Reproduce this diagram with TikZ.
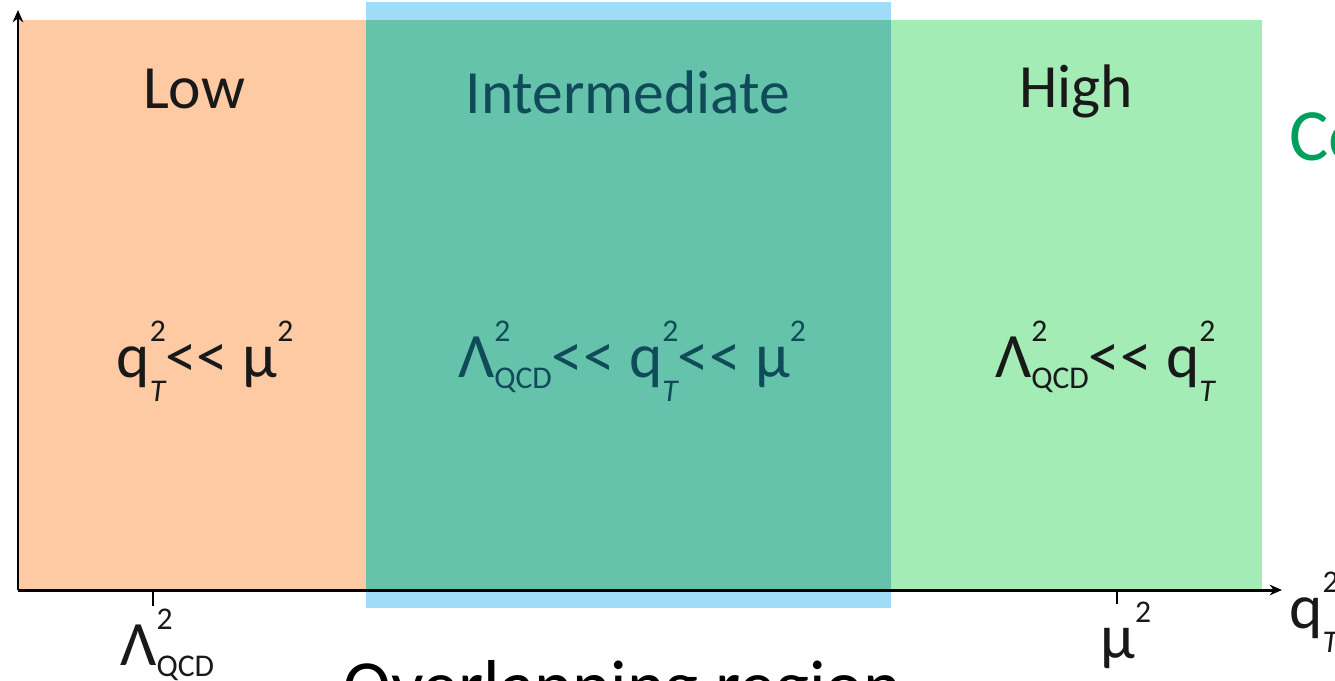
\documentclass[tikz,border=0pt]{standalone}
\usepackage{fontspec}
\setmainfont{Carlito}
\usetikzlibrary{arrows.meta}
\definecolor{lowc}{HTML}{FDCAA4}
\definecolor{bluec}{HTML}{9FDCF8}
\definecolor{tealc}{HTML}{66C3AB}
\definecolor{highc}{HTML}{A3ECB6}
\definecolor{midtxt}{HTML}{0F4B58}
\definecolor{cogreen}{HTML}{00A05C}
\newcommand{\scfnt}{\fontsize{18}{19}\selectfont}
\newcommand{\mysupsub}[2]{\makebox[0pt][l]{\raisebox{0.56em}{\scfnt #1}}\raisebox{-0.38em}{\scfnt #2}}
\newcommand{\qTsq}{q\mysupsub{2}{\itshape T}}
\newcommand{\LamQ}{Λ\makebox[0pt][l]{\raisebox{0.56em}{\scfnt 2}}\raisebox{-0.18em}{\scfnt QCD}}
\newcommand{\musq}{μ\raisebox{0.56em}{\scfnt 2}}
\newcommand{\mll}{<\kern0pt<}
\begin{document}
\begin{tikzpicture}[x=0.02cm,y=-0.02cm,
  lbl/.style={inner sep=0pt,anchor=base,font=\fontsize{35}{40}\selectfont,text=black!90},
  frm/.style={inner sep=0pt,anchor=base,font=\fontsize{36}{40}\selectfont,text=black!90},
  axl/.style={inner sep=0pt,anchor=base west,font=\fontsize{36}{40}\selectfont,text=black!90},
  axis/.style={line width=1.7pt,-{Stealth[length=7pt,width=6pt]}},
  tick/.style={line width=1pt}]
\useasboundingbox (0,0) rectangle (1335,680);
\clip (0,0) rectangle (1335,680);
\fill[white] (0,0) rectangle (1335,680);
% regions
\fill[lowc] (18,20) rectangle (366,590);
\fill[bluec] (366,2) rectangle (891,608);
\fill[tealc] (366,20) rectangle (891,590);
\fill[highc] (891,20) rectangle (1262,590);
% axes
\coordinate (O) at (18,590);
\coordinate (ytop) at (18,10);
\coordinate (xend) at (1282,590);
\draw[axis] (O) -- (ytop);
\draw[axis] (O) -- (xend);
\coordinate (t1a) at (153,590); \coordinate (t1b) at (153,606);
\coordinate (t2a) at (1117,590); \coordinate (t2b) at (1117,604);
\draw[tick] (t1a) -- (t1b);
\draw[tick] (t2a) -- (t2b);
% titles
\node[lbl] (low) at (194,108) {Low};
\node[lbl,text=midtxt] (mid) at (628,113) {Intermediate};
\node[lbl] (high) at (1076,107) {High};
% formulas
\node[frm] (flow) at (205,377) {\qTsq\mll{} \musq};
\node[frm,text=midtxt] (fmid) at (632,377) {\LamQ\mll{} \qTsq\mll{} \musq};
\node[frm] (fhigh) at (1105,377) {\LamQ\mll{} \qTsq};
% axis labels
\node[axl] (lq) at (120,665) {\LamQ};
\node[axl] (mu) at (1100,658) {\musq};
\node[axl] (qx) at (1289,628) {\qTsq};
\node[inner sep=0pt,anchor=base west,font=\fontsize{42}{46}\selectfont,text=cogreen] (co) at (1289,160) {Co};
\node[inner sep=0pt,anchor=base west,font=\fontsize{41}{46}\selectfont,text=black] (ov) at (343,710) {Overlapping region};
\end{tikzpicture}
\end{document}
